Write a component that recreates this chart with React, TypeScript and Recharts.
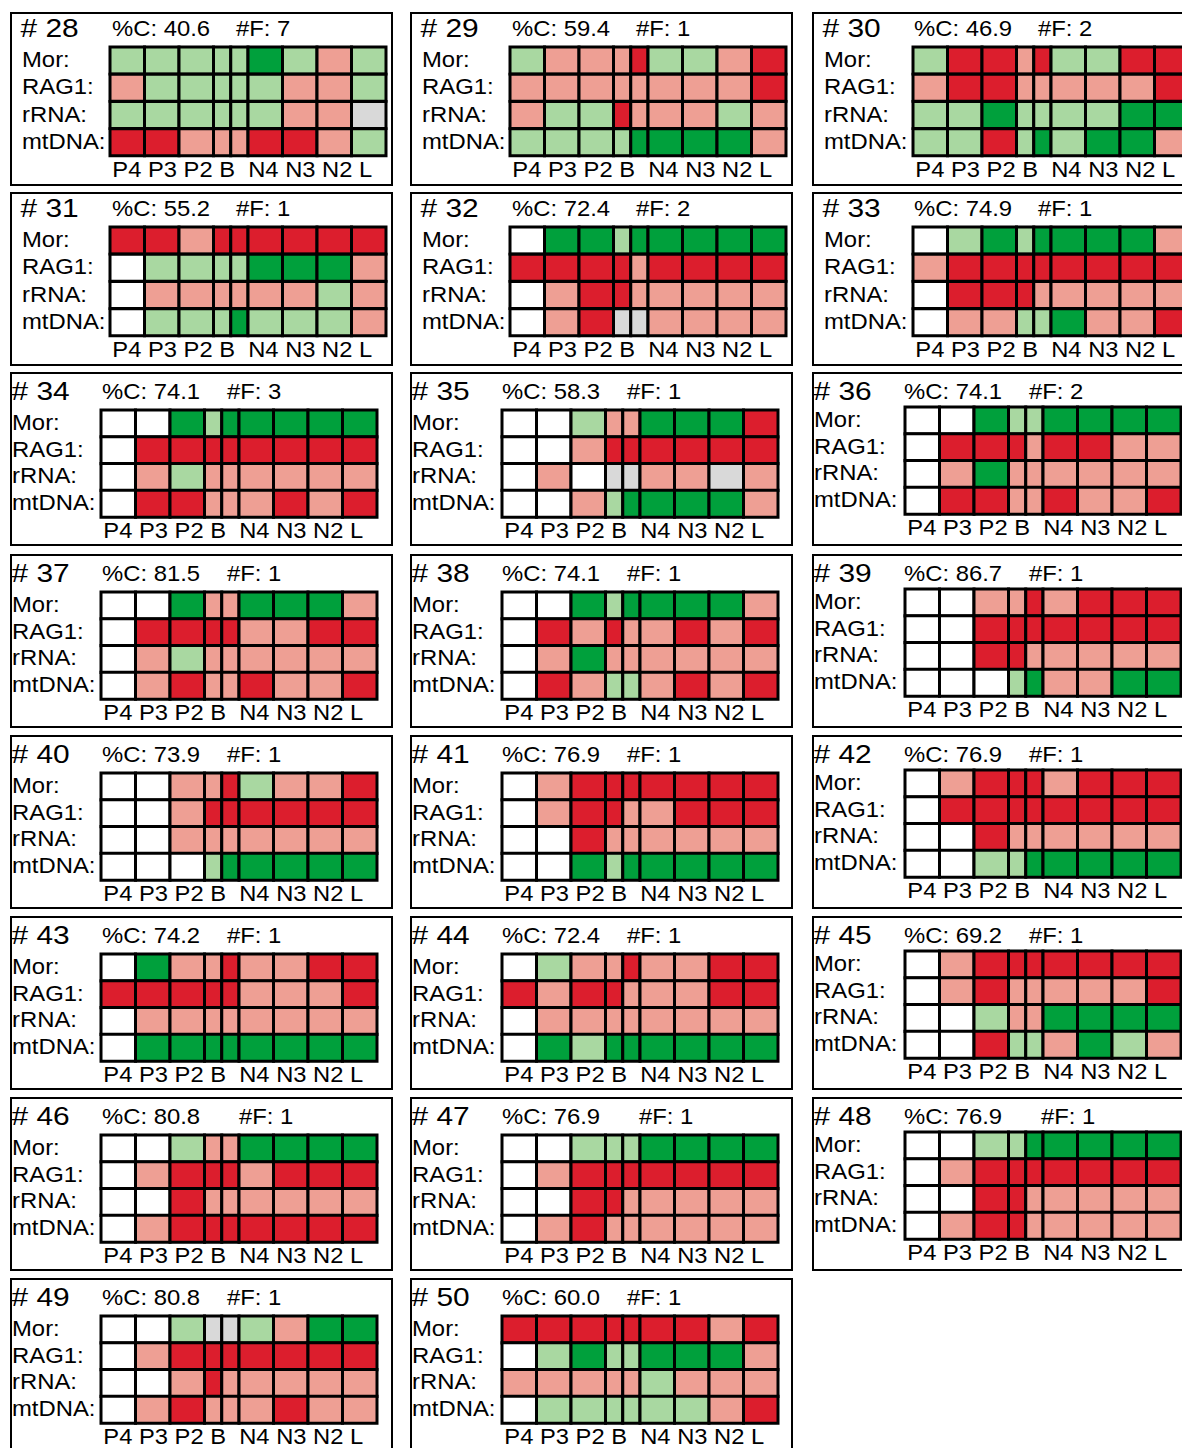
import React from 'react';
import { BarChart, Bar, XAxis, YAxis, Cell } from 'recharts';

// ---------- data ----------
const panelIds = [28, 29, 30, 31, 32, 33, 34, 35, 36, 37, 38, 39, 40, 41, 42, 43, 44, 45, 46, 47, 48, 49, 50];
const percentC = ['40.6', '59.4', '46.9', '55.2', '72.4', '74.9', '74.1', '58.3', '74.1', '81.5', '74.1', '86.7', '73.9', '76.9', '76.9', '74.2', '72.4', '69.2', '80.8', '76.9', '76.9', '80.8', '60.0'];
const featureCounts = [7, 1, 2, 1, 2, 1, 3, 1, 2, 1, 1, 1, 1, 1, 1, 1, 1, 1, 1, 1, 1, 1, 1];
const geneLabels = ['Mor:', 'RAG1:', 'rRNA:', 'mtDNA:'];
// nine cells per row; the B stage is split into two half-width cells
const cellStages = ['P4', 'P3', 'P2', 'B', 'B', 'N4', 'N3', 'N2', 'L'];
const stageTickLabels = ['P4', 'P3', 'P2', 'B', 'N4', 'N3', 'N2', 'L'];

// G = strong support, g = weak support, r = weak conflict, R = strong conflict, X = no data, W = absent
const morStates = [
  'gggggGgrg', 'grrrRggrR', 'gRRrRggRR',
  'RRrRRRRRR', 'WGGgGGGGG', 'WgGgGGGGr',
  'WWGgGGGGG', 'WWgrrGGGR', 'WWGggGGGG',
  'WWGrrGGGr', 'WWGgGGGGr', 'WWrrRrRRR',
  'WWrrRgrrR', 'WrRRRRRRR', 'WrRRRrRRR',
  'WGrrRrrRR', 'WgrrRrrRR', 'WrRRRRRRR',
  'WWgrrGGGG', 'WWgggGGGG', 'WWggGGGGG',
  'WWgXXgrGG', 'RRRRRRRrR',
];
const rag1States = [
  'rgggggrrg', 'rrrrrrrrR', 'rRRrrrrrR',
  'WggggGGGr', 'RRRRrRRRR', 'rRRRRRRRR',
  'WRRRRRRRR', 'WWrRRRRRR', 'WRRRrRRrr',
  'WRRRRrrRR', 'WRrRrrRrR', 'WWRRRRRRR',
  'WWrRRRRRR', 'WrRRrrRRR', 'WRRRRRRRR',
  'RRRRRrrrR', 'RrRRrrrRR', 'WrRrrrrrR',
  'WrRRRrRRR', 'WrRRRRRRR', 'WrRRRRRRR',
  'WrRRRRRRR', 'WgGggGGGr',
];
const rrnaStates = [
  'ggggggrrX', 'rggRrrrgr', 'ggGggggGG',
  'Wrrrrrrgr', 'WrRRrrrrr', 'WRRRrrrrr',
  'Wrgrrrrrr', 'WrWXXrrXr', 'WrGrrrrrr',
  'Wrgrrrrrr', 'WrGrrrrrr', 'WWRRrrrrr',
  'WWrrrrrrr', 'WWRrrrrrr', 'WWRrrrrrr',
  'Wrrrrrrrr', 'Wrrrrrrrr', 'WWgrrGGGG',
  'WWRrrrrrr', 'WWRRrrrrr', 'WWRRrrrrr',
  'WWrRrrrrr', 'rrrrrgrrr',
];
const mtdnaStates = [
  'RRrrrRRrg', 'ggggGGGGr', 'ggRgGgGGr',
  'WgggGgggr', 'WrRXXrrrr', 'WrrggGrrR',
  'WRRrrrRrR', 'WWrgGGGGr', 'WRRrrRrrR',
  'WrRrrRrrR', 'WRrggrRrR', 'WWWgGrrGG',
  'WWWgGGGGG', 'WWGgGGGGG', 'WWggGGGGG',
  'WGGGGGGGG', 'WGgGGGGGG', 'WWRggrGgr',
  'WrRRRRRRR', 'WrRrrrrrr', 'WrRRrrrrr',
  'WrRrrrRrr', 'WggggggrR',
];

// ---------- styling ----------
const COLORS: Record<string, string> = {
  G: '#00a03c',
  g: '#a9d8a1',
  r: '#ee9f94',
  R: '#dc1e2d',
  X: '#d9d9d9',
  W: '#ffffff',
};
const FONT = "'Liberation Sans', Arial, Helvetica, sans-serif";
const SX = 1.12;
const PANEL_W = 383;
const PANEL_H = 174;
const GRID_W = 276;
const AXIS_H = 30;
const colLeft = [10, 410, 812];
const rowTop = [12, 192, 372, 554, 735, 916, 1097, 1278];

const spans = cellStages.map((s) => (cellStages.filter((t) => t === s).length > 1 ? 1 : 2));
const spanTotal = spans.reduce((a, b) => a + b, 0);
const tickText = stageTickLabels.join(' ').replace('B ', 'B  ');
const stateRows = [morStates, rag1States, rrnaStates, mtdnaStates];

function Panel({ index }: { index: number }) {
  const row = Math.floor(index / 3);
  const col = index % 3;
  const styleA = row < 2;
  const shift = !styleA && col === 2 ? -3 : 0;
  const gridLeft = styleA ? [100, 100, 101][col] : [91, 92, 93][col];
  const gridTop = (styleA ? 35 : 38) + shift;
  const gridBottom = (styleA ? 144 : 145) + shift;
  const labelX = styleA ? 12 : 2;
  const numX = styleA ? 10.5 : 1.5;
  const numBase = styleA ? 24.5 : 27.5;
  const headBase = styleA ? 24 : 26.5;
  const pctX = styleA ? 102 : 92;
  const fX = (styleA ? 226 : 217) + (row === 6 ? 12 : 0);

  const data = geneLabels.map((gene, gi) => {
    const d: any = { gene, states: stateRows[gi][index] };
    spans.forEach((sp, ci) => {
      d['c' + ci] = sp;
    });
    return d;
  });

  const margin = {
    top: gridTop,
    left: labelX,
    right: PANEL_W - gridLeft - GRID_W,
    bottom: PANEL_H - gridBottom - AXIS_H,
  };

  const GeneTick = (p: any) => (
    <text
      transform={`translate(${labelX},${p.y + 6.5}) scale(${SX},1)`}
      fontSize={21.3}
      fontFamily={FONT}
      fill="#000"
    >
      {p.payload.value}
    </text>
  );

  const StageTick = (p: any) => (
    <text
      transform={`translate(${p.x + 2.3},${gridBottom + 21}) scale(${SX},1)`}
      fontSize={21.2}
      fontFamily={FONT}
      fill="#000"
      xmlSpace="preserve"
      style={{ whiteSpace: 'pre' }}
    >
      {tickText}
    </text>
  );

  return (
    <div
      style={{
        position: 'absolute',
        left: colLeft[col],
        top: rowTop[row],
        width: PANEL_W,
        height: PANEL_H,
      }}
    >
      <div
        style={{
          position: 'absolute',
          left: 0,
          top: 0,
          width: PANEL_W,
          height: PANEL_H,
          border: '2px solid #000',
          boxSizing: 'border-box',
        }}
      />
      <div style={{ position: 'absolute', left: 0, top: 0 }}>
        <BarChart
          width={PANEL_W}
          height={PANEL_H}
          data={data}
          layout="vertical"
          margin={margin}
          barCategoryGap={0}
          barGap={0}
        >
          <XAxis
            type="number"
            domain={[0, spanTotal]}
            ticks={[0]}
            interval={0}
            height={AXIS_H}
            axisLine={false}
            tickLine={false}
            tick={StageTick}
            allowDecimals={false}
          />
          <YAxis
            type="category"
            dataKey="gene"
            width={gridLeft - labelX}
            axisLine={false}
            tickLine={false}
            tick={GeneTick}
            interval={0}
          />
          {spans.map((_, ci) => (
            <Bar
              key={ci}
              dataKey={'c' + ci}
              stackId="cells"
              stroke="#000"
              strokeWidth={3}
              isAnimationActive={false}
            >
              {data.map((d, ri) => (
                <Cell key={ri} fill={COLORS[d.states[ci]]} />
              ))}
            </Bar>
          ))}
        </BarChart>
      </div>
      <svg
        width={PANEL_W}
        height={PANEL_H}
        style={{ position: 'absolute', left: 0, top: 0, pointerEvents: 'none' }}
      >
        <text
          transform={`translate(${numX},${numBase}) scale(1.15,1)`}
          fontSize={26}
          fontFamily={FONT}
          fill="#000"
        >
          {`# ${panelIds[index]}`}
        </text>
        <text
          transform={`translate(${pctX},${headBase}) scale(${SX},1)`}
          fontSize={21.3}
          fontFamily={FONT}
          fill="#000"
        >
          {`%C: ${percentC[index]}`}
        </text>
        <text
          transform={`translate(${fX},${headBase}) scale(${SX},1)`}
          fontSize={21.3}
          fontFamily={FONT}
          fill="#000"
        >
          {`#F: ${featureCounts[index]}`}
        </text>
      </svg>
    </div>
  );
}

export default function App() {
  return (
    <div
      style={{
        position: 'fixed',
        left: 0,
        top: 0,
        width: 1182,
        height: 1448,
        overflow: 'hidden',
        background: '#fff',
      }}
    >
      {panelIds.map((_, i) => (
        <Panel key={i} index={i} />
      ))}
    </div>
  );
}
